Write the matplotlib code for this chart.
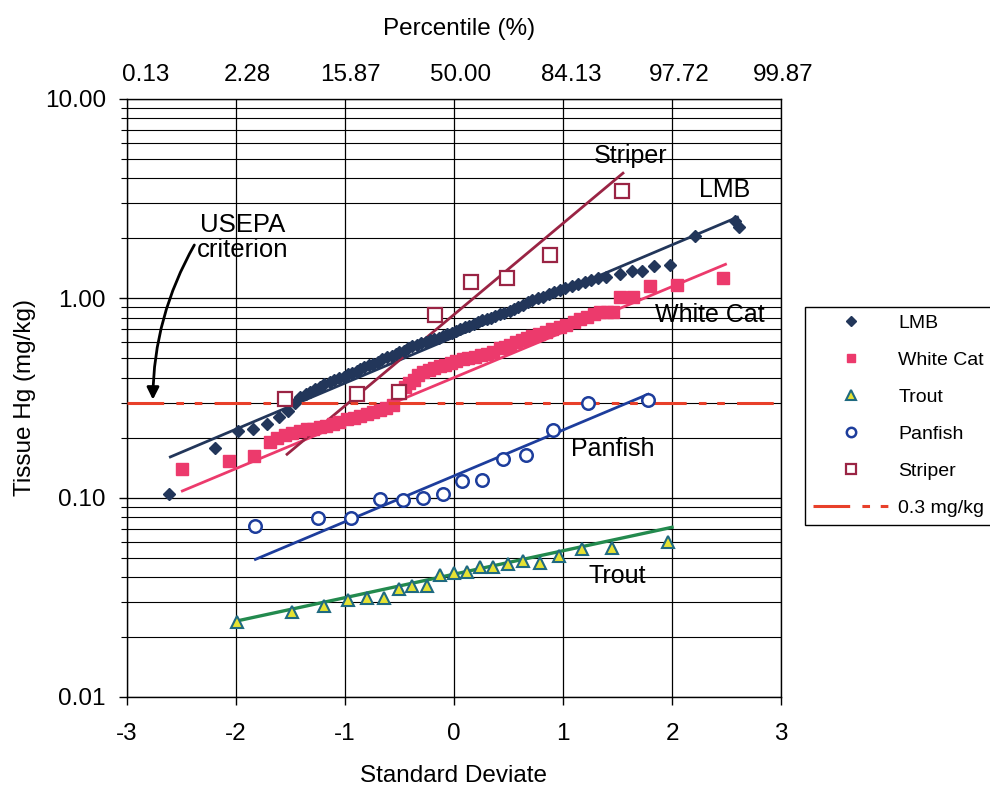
import matplotlib
matplotlib.use('Agg')
import matplotlib.pyplot as plt
from matplotlib.ticker import FixedLocator, FixedFormatter, NullFormatter

plt.rcParams['font.family'] = ['Liberation Sans', 'DejaVu Sans']
plt.rcParams['axes.unicode_minus'] = False

# ---- data ----
lmb_x = [-2.61, -2.19, -1.98, -1.84, -1.71, -1.60, -1.52, -1.46, -1.41, -1.36, -1.32, -1.27,
         -1.23, -1.19, -1.14, -1.10, -1.05, -1.01, -0.97, -0.93, -0.89, -0.86, -0.82, -0.78,
         -0.74, -0.70, -0.66, -0.61, -0.57, -0.53, -0.50, -0.46, -0.42, -0.38, -0.34, -0.30,
         -0.26, -0.22, -0.18, -0.14, -0.10, -0.06, -0.02, 0.02, 0.06, 0.10, 0.14, 0.18, 0.22,
         0.26, 0.30, 0.34, 0.38, 0.42, 0.46, 0.51, 0.55, 0.59, 0.63, 0.68, 0.72, 0.77, 0.82,
         0.87, 0.92, 0.97, 1.02, 1.08, 1.14, 1.20, 1.26, 1.32, 1.39, 1.52, 1.63, 1.72, 1.83,
         1.98, 2.21, 2.58, 2.61]
lmb_y = [0.104, 0.177, 0.215, 0.222, 0.233, 0.255, 0.272, 0.30, 0.32, 0.33, 0.34, 0.35,
         0.36, 0.37, 0.38, 0.39, 0.40, 0.405, 0.415, 0.42, 0.43, 0.44, 0.45, 0.46,
         0.47, 0.48, 0.495, 0.51, 0.515, 0.525, 0.535, 0.545, 0.56, 0.575, 0.585, 0.595,
         0.605, 0.615, 0.625, 0.635, 0.645, 0.66, 0.67, 0.685, 0.70, 0.715, 0.73, 0.745, 0.76,
         0.775, 0.79, 0.80, 0.815, 0.83, 0.845, 0.86, 0.88, 0.90, 0.925, 0.955, 0.98, 1.00, 1.02,
         1.05, 1.07, 1.10, 1.12, 1.15, 1.18, 1.21, 1.24, 1.27, 1.28, 1.33, 1.37, 1.37, 1.45,
         1.46, 2.05, 2.45, 2.27]
lmb_fit_x = [-2.6, 2.6]
lmb_fit_y = [0.16, 2.55]

cat_x = [-2.49, -2.06, -1.83, -1.69, -1.62, -1.55, -1.48, -1.41, -1.35, -1.29, -1.23, -1.17,
         -1.11, -1.05, -0.98, -0.92, -0.86, -0.80, -0.74, -0.68, -0.62, -0.56, -0.50, -0.45,
         -0.41, -0.37, -0.33, -0.28, -0.23, -0.18, -0.13, -0.08, -0.03, 0.02, 0.08, 0.13,
         0.19, 0.25, 0.30, 0.36, 0.42, 0.47, 0.51, 0.57, 0.62, 0.67, 0.72, 0.78, 0.84, 0.90,
         0.97, 1.03, 1.10, 1.16, 1.22, 1.28, 1.34, 1.40, 1.46, 1.52, 1.64, 1.80, 2.05, 2.47]
cat_y = [0.139, 0.152, 0.161, 0.19, 0.20, 0.205, 0.21, 0.215, 0.22, 0.22, 0.225, 0.23,
         0.235, 0.24, 0.247, 0.252, 0.257, 0.262, 0.268, 0.275, 0.28, 0.29, 0.335, 0.36,
         0.375, 0.39, 0.41, 0.425, 0.435, 0.445, 0.455, 0.465, 0.475, 0.485, 0.495, 0.50,
         0.51, 0.52, 0.525, 0.54, 0.56, 0.57, 0.58, 0.60, 0.615, 0.63, 0.645, 0.66, 0.68, 0.70,
         0.715, 0.735, 0.76, 0.785, 0.81, 0.83, 0.85, 0.85, 0.85, 1.02, 1.02, 1.15, 1.17, 1.26]
cat_fit_x = [-2.49, 2.49]
cat_fit_y = [0.108, 1.48]

trout_x = [-1.99, -1.48, -1.19, -0.97, -0.80, -0.64, -0.50, -0.38, -0.25, -0.13, 0.0,
           0.12, 0.24, 0.36, 0.50, 0.63, 0.79, 0.96, 1.17, 1.45, 1.96]
trout_y = [0.0237, 0.0266, 0.0286, 0.0306, 0.0315, 0.0315, 0.035, 0.036, 0.036, 0.041, 0.042,
           0.0426, 0.045, 0.045, 0.0465, 0.048, 0.047, 0.0508, 0.055, 0.056, 0.060]
trout_fit_x = [-2.0, 2.0]
trout_fit_y = [0.024, 0.071]

pan_x = [-1.82, -1.25, -0.94, -0.68, -0.47, -0.28, -0.10, 0.07, 0.26, 0.45, 0.66, 0.91, 1.23, 1.78]
pan_y = [0.0718, 0.0787, 0.0787, 0.098, 0.097, 0.100, 0.104, 0.121, 0.123, 0.156, 0.163,
         0.218, 0.297, 0.308]
pan_fit_x = [-1.82, 1.78]
pan_fit_y = [0.049, 0.33]

striper_x = [-1.55, -0.89, -0.50, -0.17, 0.16, 0.49, 0.88, 1.54]
striper_y = [0.311, 0.33, 0.34, 0.82, 1.20, 1.26, 1.64, 3.44]
striper_fit_x = [-1.53, 1.55]
striper_fit_y = [0.165, 4.24]

criterion = 0.3

pct_labels = ['0.13', '2.28', '15.87', '50.00', '84.13', '97.72', '99.87']
pct_pos = [-2.83, -1.89, -0.95, 0.06, 1.08, 2.07, 3.02]

# ---- colours ----
c_lmb = '#22365a'
c_cat = '#ec3a6c'
c_trout = '#238a4e'
c_pan = '#1d3d9c'
c_str = '#9a2444'
c_ref = '#e8402a'

fig = plt.figure(figsize=(9.9, 7.88), dpi=100)
ax = fig.add_axes([0.128, 0.1155, 0.661, 0.759])

ax.set_yscale('log')
ax.set_xlim(-3, 3)
ax.set_ylim(0.01, 10)

# grid
ax.grid(True, which='major', axis='both', color='black', lw=0.9)
ax.grid(True, which='minor', axis='y', color='black', lw=0.8)
for s in ['top', 'right', 'left', 'bottom']:
    ax.spines[s].set_color('black')
    ax.spines[s].set_linewidth(1.0)

# fits
ax.plot(lmb_fit_x, lmb_fit_y, color=c_lmb, lw=2.0, zorder=3)
ax.plot(cat_fit_x, cat_fit_y, color=c_cat, lw=2.0, zorder=3)
ax.plot(trout_fit_x, trout_fit_y, color=c_trout, lw=2.4, zorder=3)
ax.plot(pan_fit_x, pan_fit_y, color=c_pan, lw=2.0, zorder=3)
ax.plot(striper_fit_x, striper_fit_y, color=c_str, lw=2.0, zorder=3)

# points
h_lmb, = ax.plot(lmb_x, lmb_y, ls='none', marker='D', ms=6.5, color=c_lmb, label='LMB', zorder=4)
h_cat, = ax.plot(cat_x, cat_y, ls='none', marker='s', ms=8.5, color=c_cat, label='White Cat', zorder=4)
h_trout, = ax.plot(trout_x, trout_y, ls='none', marker='^', ms=9, mfc='#e6e232', mec='#1f6a80',
                   mew=1.5, label='Trout', zorder=5)
h_pan, = ax.plot(pan_x, pan_y, ls='none', marker='o', ms=9, mfc='white', mec=c_pan, mew=1.8,
                 label='Panfish', zorder=5)
h_str, = ax.plot(striper_x, striper_y, ls='none', marker='s', ms=9.5, mfc='white', mec=c_str, mew=1.6,
                 label='Striper', zorder=5)
h_ref = ax.axhline(criterion, color=c_ref, lw=2.2, ls=(0, (12, 4, 2.5, 3.5, 2.5, 4)),
                   label='0.3 mg/kg', zorder=4)

# axes ticks / labels
ax.yaxis.set_major_locator(FixedLocator([0.01, 0.1, 1, 10]))
ax.yaxis.set_major_formatter(FixedFormatter(['0.01', '0.10', '1.00', '10.00']))
ax.yaxis.set_minor_formatter(NullFormatter())
ax.set_xticks([-3, -2, -1, 0, 1, 2, 3])
ax.tick_params(axis='both', which='major', labelsize=17.5, direction='out', length=6, width=1,
               color='black', pad=9)
ax.tick_params(axis='x', which='major', pad=13)
ax.tick_params(axis='y', which='minor', length=4, width=0.8)
ax.set_xlabel('Standard Deviate', fontsize=17.5, labelpad=14)
ax.set_ylabel('Tissue Hg (mg/kg)', fontsize=17.5, labelpad=6)

# percentile scale along the top
for p, lab in zip(pct_pos, pct_labels):
    ax.text(p, 1.04, lab, transform=ax.get_xaxis_transform(), fontsize=17.5,
            ha='center', va='center', clip_on=False)
ax.text(0.05, 1.117, 'Percentile (%)', transform=ax.get_xaxis_transform(), fontsize=17.5,
        ha='center', va='center', clip_on=False)

# annotations
ax.text(1.62, 5.2, 'Striper', fontsize=18, ha='center', va='center')
ax.text(2.48, 3.5, 'LMB', fontsize=18, ha='center', va='center')
ax.text(2.35, 0.82, 'White Cat', fontsize=18, ha='center', va='center')
ax.text(1.46, 0.175, 'Panfish', fontsize=18, ha='center', va='center')
ax.text(1.50, 0.0405, 'Trout', fontsize=18, ha='center', va='center')
ax.text(-1.94, 2.02, 'USEPA\ncriterion', fontsize=18.5, ha='center', va='center', linespacing=1.05)
ax.annotate('', xy=(-2.76, 0.31), xytext=(-2.38, 1.85),
            arrowprops=dict(arrowstyle='-|>', color='black', lw=2.0, mutation_scale=18,
                            shrinkA=0, shrinkB=0, connectionstyle='arc3,rad=0.13'))

fig.legend(handles=[h_lmb, h_cat, h_trout, h_pan, h_str, h_ref],
           loc='upper left', bbox_to_anchor=(0.813, 0.611), fontsize=14,
           frameon=True, fancybox=False, edgecolor='black', framealpha=1,
           handlelength=3.9, labelspacing=1.0, borderpad=0.4, handletextpad=0.5,
           markerscale=0.75, borderaxespad=0)

fig.savefig('out.png', dpi=100)
